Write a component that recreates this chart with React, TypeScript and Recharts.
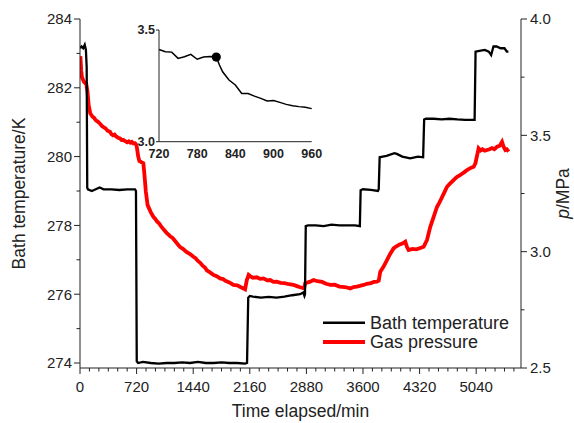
import React from "react";
import { Legend, Line, LineChart, XAxis, YAxis } from "recharts";

// Bath temperature, K (left axis) vs elapsed time, min
const bathTemp: { t: number; K: number }[] = [
  { t: 0, K: 283.15 }, { t: 20, K: 283.2 }, { t: 40, K: 283.15 }, { t: 60, K: 283.25 },
  { t: 75, K: 283.1 }, { t: 85, K: 282.6 }, { t: 92, K: 279.1 }, { t: 100, K: 279.05 },
  { t: 150, K: 279.0 }, { t: 200, K: 279.05 }, { t: 250, K: 279.1 }, { t: 300, K: 279.05 },
  { t: 400, K: 279.05 }, { t: 500, K: 279.03 }, { t: 600, K: 279.05 }, { t: 700, K: 279.05 },
  { t: 712, K: 279.0 }, { t: 722, K: 274.05 }, { t: 740, K: 274.0 }, { t: 800, K: 274.03 },
  { t: 900, K: 274.0 }, { t: 1000, K: 273.98 }, { t: 1100, K: 274.0 }, { t: 1200, K: 274.0 },
  { t: 1300, K: 274.02 }, { t: 1400, K: 274.0 }, { t: 1500, K: 274.03 }, { t: 1600, K: 274.0 },
  { t: 1700, K: 274.0 }, { t: 1800, K: 274.02 }, { t: 1900, K: 274.0 }, { t: 2000, K: 274.0 },
  { t: 2100, K: 273.98 }, { t: 2125, K: 274.0 }, { t: 2140, K: 275.9 }, { t: 2160, K: 275.95 },
  { t: 2200, K: 275.93 }, { t: 2300, K: 275.9 }, { t: 2400, K: 275.92 }, { t: 2500, K: 275.9 },
  { t: 2600, K: 275.93 }, { t: 2700, K: 275.97 }, { t: 2800, K: 276.0 }, { t: 2840, K: 276.05 },
  { t: 2855, K: 275.95 }, { t: 2862, K: 276.0 }, { t: 2872, K: 277.98 }, { t: 2900, K: 278.0 },
  { t: 3000, K: 278.0 }, { t: 3100, K: 277.98 }, { t: 3200, K: 278.02 }, { t: 3300, K: 278.0 },
  { t: 3400, K: 278.0 }, { t: 3500, K: 278.0 }, { t: 3560, K: 277.98 }, { t: 3570, K: 279.02 },
  { t: 3600, K: 279.05 }, { t: 3700, K: 279.03 }, { t: 3790, K: 279.0 }, { t: 3800, K: 279.05 },
  { t: 3812, K: 279.98 }, { t: 3850, K: 280.0 }, { t: 3900, K: 280.02 }, { t: 4000, K: 280.1 },
  { t: 4030, K: 280.08 }, { t: 4100, K: 280.0 }, { t: 4200, K: 279.95 }, { t: 4300, K: 280.0 },
  { t: 4365, K: 279.98 }, { t: 4378, K: 281.08 }, { t: 4400, K: 281.1 }, { t: 4500, K: 281.1 },
  { t: 4600, K: 281.08 }, { t: 4700, K: 281.1 }, { t: 4800, K: 281.08 }, { t: 4900, K: 281.07 },
  { t: 5020, K: 281.07 }, { t: 5032, K: 283.05 }, { t: 5080, K: 283.07 }, { t: 5150, K: 283.1 },
  { t: 5200, K: 283.05 }, { t: 5230, K: 282.95 }, { t: 5260, K: 283.2 }, { t: 5300, K: 283.2 },
  { t: 5350, K: 283.15 }, { t: 5400, K: 283.15 }, { t: 5430, K: 283.05 }, { t: 5450, K: 283.05 },
];

// Gas pressure, MPa (right axis)
const gasPressure: { t: number; p: number }[] = [
  { t: 5, p: 3.84 }, { t: 15, p: 3.78 }, { t: 25, p: 3.75 }, { t: 50, p: 3.73 },
  { t: 80, p: 3.72 }, { t: 95, p: 3.69 }, { t: 110, p: 3.63 }, { t: 130, p: 3.595 },
  { t: 160, p: 3.58 }, { t: 180, p: 3.575 }, { t: 200, p: 3.565 }, { t: 230, p: 3.558 },
  { t: 255, p: 3.55 }, { t: 280, p: 3.54 }, { t: 300, p: 3.535 }, { t: 325, p: 3.53 },
  { t: 350, p: 3.52 }, { t: 382, p: 3.515 }, { t: 400, p: 3.505 }, { t: 420, p: 3.5 },
  { t: 440, p: 3.503 }, { t: 460, p: 3.495 }, { t: 485, p: 3.49 }, { t: 509, p: 3.487 },
  { t: 530, p: 3.48 }, { t: 550, p: 3.48 }, { t: 575, p: 3.475 }, { t: 600, p: 3.47 },
  { t: 620, p: 3.474 }, { t: 640, p: 3.468 }, { t: 660, p: 3.472 }, { t: 680, p: 3.465 },
  { t: 700, p: 3.466 }, { t: 715, p: 3.46 }, { t: 725, p: 3.445 }, { t: 740, p: 3.41 },
  { t: 755, p: 3.39 }, { t: 780, p: 3.385 }, { t: 806, p: 3.38 }, { t: 820, p: 3.33 },
  { t: 837, p: 3.26 }, { t: 860, p: 3.2 }, { t: 880, p: 3.185 }, { t: 900, p: 3.17 },
  { t: 933, p: 3.15 }, { t: 955, p: 3.142 }, { t: 980, p: 3.13 }, { t: 1005, p: 3.122 },
  { t: 1030, p: 3.11 }, { t: 1065, p: 3.095 }, { t: 1104, p: 3.08 }, { t: 1130, p: 3.072 },
  { t: 1150, p: 3.065 }, { t: 1175, p: 3.06 }, { t: 1200, p: 3.05 }, { t: 1235, p: 3.035 },
  { t: 1273, p: 3.02 }, { t: 1310, p: 3.012 }, { t: 1350, p: 3.0 }, { t: 1400, p: 2.99 },
  { t: 1443, p: 2.978 }, { t: 1470, p: 2.972 }, { t: 1500, p: 2.96 }, { t: 1530, p: 2.952 },
  { t: 1560, p: 2.94 }, { t: 1590, p: 2.932 }, { t: 1613, p: 2.92 }, { t: 1650, p: 2.912 },
  { t: 1700, p: 2.9 }, { t: 1740, p: 2.895 }, { t: 1783, p: 2.885 }, { t: 1820, p: 2.882 },
  { t: 1850, p: 2.875 }, { t: 1900, p: 2.868 }, { t: 1952, p: 2.857 }, { t: 2000, p: 2.855 },
  { t: 2040, p: 2.848 }, { t: 2079, p: 2.842 }, { t: 2100, p: 2.838 }, { t: 2122, p: 2.878 },
  { t: 2145, p: 2.9 }, { t: 2164, p: 2.895 }, { t: 2200, p: 2.888 }, { t: 2250, p: 2.89 },
  { t: 2290, p: 2.883 }, { t: 2334, p: 2.885 }, { t: 2380, p: 2.877 }, { t: 2420, p: 2.878 },
  { t: 2460, p: 2.87 }, { t: 2504, p: 2.871 }, { t: 2550, p: 2.866 }, { t: 2600, p: 2.865 },
  { t: 2660, p: 2.86 }, { t: 2716, p: 2.857 }, { t: 2760, p: 2.852 }, { t: 2801, p: 2.847 },
  { t: 2850, p: 2.842 }, { t: 2865, p: 2.864 }, { t: 2920, p: 2.87 }, { t: 2971, p: 2.878 },
  { t: 3020, p: 2.873 }, { t: 3080, p: 2.87 }, { t: 3130, p: 2.862 }, { t: 3183, p: 2.857 },
  { t: 3240, p: 2.858 }, { t: 3300, p: 2.85 }, { t: 3370, p: 2.848 }, { t: 3438, p: 2.842 },
  { t: 3480, p: 2.848 }, { t: 3520, p: 2.85 }, { t: 3560, p: 2.853 }, { t: 3607, p: 2.857 },
  { t: 3650, p: 2.862 }, { t: 3700, p: 2.865 }, { t: 3740, p: 2.87 }, { t: 3777, p: 2.871 },
  { t: 3800, p: 2.875 }, { t: 3820, p: 2.914 }, { t: 3860, p: 2.935 }, { t: 3900, p: 2.96 },
  { t: 3945, p: 2.99 }, { t: 3989, p: 3.014 }, { t: 4020, p: 3.022 }, { t: 4060, p: 3.03 },
  { t: 4100, p: 3.035 }, { t: 4138, p: 3.043 }, { t: 4160, p: 3.02 }, { t: 4180, p: 3.007 },
  { t: 4230, p: 3.012 }, { t: 4280, p: 3.01 }, { t: 4330, p: 3.016 }, { t: 4371, p: 3.021 },
  { t: 4414, p: 3.05 }, { t: 4456, p: 3.107 }, { t: 4499, p: 3.15 }, { t: 4542, p: 3.193 },
  { t: 4570, p: 3.21 }, { t: 4600, p: 3.23 }, { t: 4635, p: 3.255 }, { t: 4669, p: 3.279 },
  { t: 4700, p: 3.29 }, { t: 4730, p: 3.3 }, { t: 4765, p: 3.312 }, { t: 4797, p: 3.322 },
  { t: 4830, p: 3.328 }, { t: 4860, p: 3.335 }, { t: 4890, p: 3.342 }, { t: 4924, p: 3.351 },
  { t: 4970, p: 3.36 }, { t: 5008, p: 3.365 }, { t: 5030, p: 3.38 }, { t: 5071, p: 3.444 },
  { t: 5095, p: 3.435 }, { t: 5120, p: 3.44 }, { t: 5150, p: 3.434 }, { t: 5178, p: 3.437 },
  { t: 5210, p: 3.44 }, { t: 5240, p: 3.445 }, { t: 5270, p: 3.44 }, { t: 5305, p: 3.451 },
  { t: 5340, p: 3.455 }, { t: 5369, p: 3.472 }, { t: 5390, p: 3.45 }, { t: 5411, p: 3.437 },
  { t: 5430, p: 3.44 }, { t: 5453, p: 3.43 },
];

// inset: pressure between 720 and 960 min, with the marked point
const insetPressure: { t: number; p: number }[] = [
  { t: 720, p: 3.413 }, { t: 730, p: 3.403 }, { t: 740, p: 3.401 }, { t: 750, p: 3.373 },
  { t: 760, p: 3.38 }, { t: 770, p: 3.391 }, { t: 780, p: 3.369 }, { t: 790, p: 3.379 },
  { t: 800, p: 3.381 }, { t: 810, p: 3.379 }, { t: 815, p: 3.343 }, { t: 820, p: 3.313 },
  { t: 830, p: 3.276 }, { t: 840, p: 3.254 }, { t: 850, p: 3.216 }, { t: 860, p: 3.216 },
  { t: 870, p: 3.204 }, { t: 880, p: 3.194 }, { t: 890, p: 3.182 }, { t: 900, p: 3.184 },
  { t: 910, p: 3.176 }, { t: 920, p: 3.167 }, { t: 930, p: 3.161 }, { t: 940, p: 3.157 },
  { t: 950, p: 3.154 }, { t: 960, p: 3.148 },
];
const insetMarkerTime = 810;

const timeTicks = [0, 720, 1440, 2160, 2880, 3600, 4320, 5040];
const tempTicks = [274, 276, 278, 280, 282, 284];
const pressureTicks = [2.5, 3.0, 3.5, 4.0];
const insetTimeTicks = [720, 780, 840, 900, 960];
const insetPressureTicks = [3.0, 3.5];

// minor ticks between the labelled ones
const timeMinor: number[] = [];
for (let v = 0; v <= 5600; v += 120) timeMinor.push(v);
const tempMinor = [274, 275, 276, 277, 278, 279, 280, 281, 282, 283, 284];
const pressureMinor = [2.5, 2.75, 3.0, 3.25, 3.5, 3.75, 4.0];

const FONT = '"Liberation Sans", Arial, sans-serif';
const INK = "#222";

function XTick({ x, y, payload }: any) {
  const major = timeTicks.includes(payload.value);
  return (
    <g>
      <line x1={x} y1={y} x2={x} y2={y + (major ? 6 : 3.5)} stroke={INK} strokeWidth={1} />
      {major && (
        <text x={x} y={y + 24} textAnchor="middle" fontSize={15} fontFamily={FONT} fill={INK}>
          {payload.value}
        </text>
      )}
    </g>
  );
}

function LeftTick({ x, y, payload }: any) {
  const major = tempTicks.includes(payload.value);
  return (
    <g>
      <line x1={x} y1={y} x2={x - (major ? 6 : 3.5)} y2={y} stroke={INK} strokeWidth={1} />
      {major && (
        <text x={x - 8} y={y} dy="0.36em" textAnchor="end" fontSize={15} fontFamily={FONT} fill={INK}>
          {payload.value}
        </text>
      )}
    </g>
  );
}

function RightTick({ x, y, payload }: any) {
  const major = pressureTicks.includes(payload.value);
  return (
    <g>
      <line x1={x} y1={y} x2={x + (major ? 6 : 3.5)} y2={y} stroke={INK} strokeWidth={1} />
      {major && (
        <text x={x + 9} y={y} dy="0.36em" textAnchor="start" fontSize={15} fontFamily={FONT} fill={INK}>
          {payload.value.toFixed(1)}
        </text>
      )}
    </g>
  );
}

function LegendBox() {
  return (
    <svg width={200} height={48} style={{ display: "block" }}>
      <line x1={5} y1={14.7} x2={47} y2={14.7} stroke="#000" strokeWidth={2.5} />
      <text x={52} y={21} fontSize={18} fontFamily={FONT} fill={INK}>Bath temperature</text>
      <line x1={5} y1={34} x2={47} y2={34} stroke="#ff0000" strokeWidth={4} />
      <text x={52} y={40} fontSize={18} fontFamily={FONT} fill={INK}>Gas pressure</text>
    </svg>
  );
}

function InsetDot(props: any) {
  const { cx, cy, payload } = props;
  if (payload.t !== insetMarkerTime) return <g key={props.key} />;
  return <circle key={props.key} cx={cx} cy={cy} r={4.6} fill="#000" />;
}

export default function App() {
  return (
    <div style={{ position: "absolute", left: 0, top: 0, width: 574, height: 423, background: "#fff" }}>
      <LineChart width={574} height={423} margin={{ top: 19, right: 0, bottom: 0, left: 0 }}>
        <XAxis
          dataKey="t"
          type="number"
          domain={[0, 5610]}
          allowDataOverflow
          ticks={timeMinor}
          interval={0}
          tick={<XTick />}
          tickLine={false}
          tickSize={0}
          tickMargin={0}
          height={55}
          axisLine={{ stroke: INK }}
        />
        <YAxis
          yAxisId="K"
          orientation="left"
          type="number"
          domain={[273.855, 284]}
          allowDataOverflow
          ticks={tempMinor}
          interval={0}
          tick={<LeftTick />}
          tickLine={false}
          tickSize={0}
          tickMargin={0}
          width={80}
          axisLine={{ stroke: INK }}
        />
        <YAxis
          yAxisId="p"
          orientation="right"
          type="number"
          domain={[2.5, 4.0]}
          allowDataOverflow
          ticks={pressureMinor}
          interval={0}
          tick={<RightTick />}
          tickLine={false}
          tickSize={0}
          tickMargin={0}
          width={53}
          axisLine={{ stroke: INK }}
        />
        <Line
          yAxisId="p"
          data={gasPressure}
          dataKey="p"
          type="linear"
          stroke="#ff0000"
          strokeWidth={3.8}
          dot={false}
          isAnimationActive={false}
        />
        <Line
          yAxisId="K"
          data={bathTemp}
          dataKey="K"
          type="linear"
          stroke="#000"
          strokeWidth={2.3}
          dot={false}
          isAnimationActive={false}
        />
        <Legend
          layout="vertical"
          align="center"
          verticalAlign="middle"
          content={<LegendBox />}
          wrapperStyle={{ position: "absolute", left: 318, top: 308, width: 200, height: 48 }}
        />
      </LineChart>

      {/* axis titles */}
      <svg width={574} height={423} style={{ position: "absolute", left: 0, top: 0, pointerEvents: "none" }}>
        <text x={300.5} y={417} textAnchor="middle" fontSize={17.5} fontFamily={FONT} fill={INK}>
          Time elapsed/min
        </text>
        <text x={25} y={193.5} transform="rotate(-90 25 193.5)" textAnchor="middle" fontSize={17.5} fontFamily={FONT} fill={INK}>
          Bath temperature/K
        </text>
        <text x={569} y={193.5} transform="rotate(-90 569 193.5)" textAnchor="middle" fontSize={17.5} fontFamily={FONT} fill={INK}>
          <tspan fontStyle="italic">p</tspan>/MPa
        </text>
      </svg>

      <div style={{ position: "absolute", left: 110, top: 15 }}>
        <LineChart width={215} height={150} data={insetPressure} margin={{ top: 15, right: 13.3, bottom: 0, left: 0 }}>
          <XAxis
            dataKey="t"
            type="number"
            domain={[720, 960]}
            ticks={insetTimeTicks}
            interval={0}
            tickLine={false}
            tickMargin={1}
            height={23.3}
            axisLine={{ stroke: INK }}
            tick={{ fontSize: 12.5, fontWeight: 700, fontFamily: FONT, fill: INK }}
          />
          <YAxis
            type="number"
            domain={[3.0, 3.5]}
            ticks={insetPressureTicks}
            interval={0}
            tickSize={3}
            tickMargin={1}
            width={49}
            axisLine={{ stroke: INK }}
            tickLine={{ stroke: INK }}
            tickFormatter={(v: number) => v.toFixed(1)}
            tick={{ fontSize: 12.5, fontWeight: 700, fontFamily: FONT, fill: INK }}
          />
          <Line
            dataKey="p"
            type="linear"
            stroke="#000"
            strokeWidth={1.5}
            dot={<InsetDot />}
            isAnimationActive={false}
          />
        </LineChart>
      </div>
    </div>
  );
}
